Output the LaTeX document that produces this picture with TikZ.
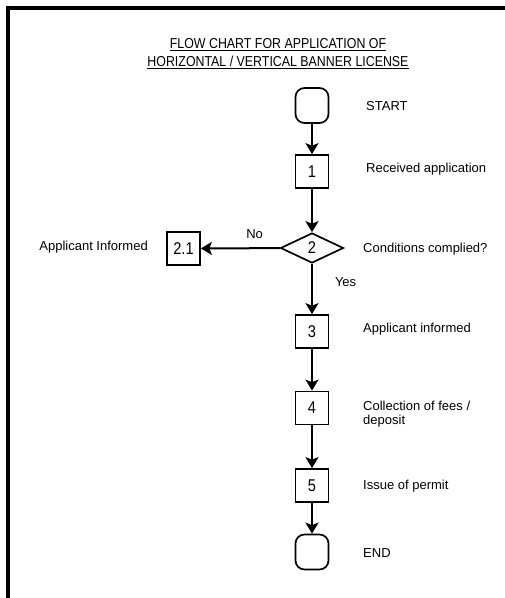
\documentclass[tikz,border=0pt]{standalone}
\usepackage{fontspec}
\setmainfont{Liberation Sans}
\newfontfamily\narrowfont[FakeStretch=0.86]{Liberation Sans}
\usetikzlibrary{arrows.meta}
\usetikzlibrary{shapes.geometric}

\begin{document}
\begin{tikzpicture}[x=1pt, y=-1pt,
  numbox/.style={draw, line width=1.7pt, minimum width=33pt, minimum height=33pt, inner sep=0pt, font=\narrowfont\fontsize{17}{17}\selectfont},
  endbox/.style={draw, line width=1.7pt, rounded corners=9pt, minimum width=33pt, minimum height=35pt},
  decision/.style={diamond, draw, line width=1.7pt, aspect=2, minimum width=63pt, minimum height=30pt, inner sep=0pt, font=\narrowfont\fontsize{17}{17}\selectfont},
  flow/.style={line width=2pt, -{Stealth[length=11pt, width=13pt, inset=2.5pt]}},
  lbl/.style={anchor=west, inner sep=0pt, align=left, font=\fontsize{13}{14.5}\selectfont}]
\useasboundingbox (0,0) rectangle (505,598);
\draw[line width=3.5pt] (8,598) |- (505,8);
\node[align=center, font=\narrowfont\fontsize{14.4}{17.5}\selectfont] (title) at (278,53.5)
  {\underline{FLOW CHART FOR APPLICATION OF}\\ \underline{HORIZONTAL / VERTICAL BANNER LICENSE}};
% steps
\node[endbox] (start) at (312,105.5) {};
\foreach \n/\y in {1/171.5, 3/331.5, 4/408, 5/485.5}
  \node[numbox] (b\n) at (312,\y) {\n};
\node[decision] (b2) at (312,248) {2};
\node[numbox] (b21) at (183.5,248.5) {2.1};
\node[endbox] (end) at (312,552) {};
% arrows
\draw[flow] (start) -- (b1);
\draw[flow] (b1) -- (b2);
\draw[flow] (b2) -- node[pos=.32, above=9pt, inner sep=0pt, font=\fontsize{13}{13}\selectfont] (no) {No} (b21);
\draw[flow] (b2) -- node[pos=.37, right=22pt, inner sep=0pt, font=\fontsize{13}{13}\selectfont] (yes) {Yes} (b3);
\foreach \a/\b in {b3/b4, b4/b5, b5/end}
  \draw[flow] (\a) -- (\b);
% texts
\node[lbl] (tstart) at (366,106) {START};
\node[lbl] (t1) at (366,169) {Received application};
\node[lbl] (t2) at (363,249) {Conditions complied?};
\node[anchor=east, inner sep=0pt, font=\fontsize{13}{13}\selectfont] (t21) at (148,247) {Applicant Informed};
\node[lbl] (t3) at (363,329) {Applicant informed};
\node[lbl] (t4) at (363,414) {Collection of fees /\\deposit};
\node[lbl] (t5) at (363,486) {Issue of permit};
\node[lbl] (tend) at (363,553) {END};
\end{tikzpicture}
\end{document}
